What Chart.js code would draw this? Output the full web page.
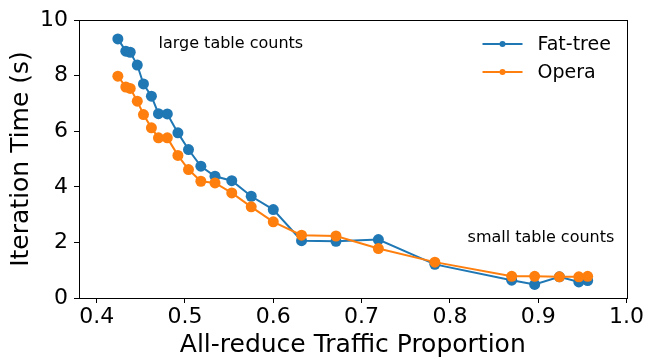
<!DOCTYPE html>
<html>
<head>
<meta charset="utf-8">
<script src="https://cdn.jsdelivr.net/npm/chart.js@4/dist/chart.umd.min.js"></script>
<style>
  html, body { margin: 0; padding: 0; background: #fff; }
  #wrap { width: 645px; height: 360px; }
</style>
</head>
<body>
<div id="wrap"><canvas id="c" width="645" height="360"></canvas></div>
<script>
// ---- data ----
const trafficProportion = [0.424, 0.433, 0.438, 0.446, 0.453, 0.462, 0.470, 0.480, 0.492, 0.504, 0.518, 0.534, 0.553, 0.575, 0.600, 0.632, 0.671, 0.719, 0.783, 0.870, 0.896, 0.924, 0.946, 0.956];
const fatTreeTime = [9.32, 8.88, 8.84, 8.38, 7.70, 7.26, 6.63, 6.62, 5.94, 5.34, 4.74, 4.38, 4.22, 3.66, 3.18, 2.06, 2.04, 2.10, 1.21, 0.64, 0.49, 0.76, 0.58, 0.63];
const operaTime = [7.98, 7.59, 7.54, 7.08, 6.60, 6.12, 5.76, 5.76, 5.13, 4.62, 4.20, 4.14, 3.78, 3.28, 2.74, 2.26, 2.23, 1.78, 1.29, 0.78, 0.78, 0.76, 0.76, 0.78];
const seriesNames = ["Fat-tree", "Opera"];
const xTickValues = [0.4, 0.5, 0.6, 0.7, 0.8, 0.9, 1.0];
const yTickValues = [0, 2, 4, 6, 8, 10];
const noteTexts = ["large table counts", "small table counts"];
const noteAnchorX = [0.47, 0.82];
const noteAnchorY = [9.0, 2.0];

const BLUE = '#1f77b4', ORANGE = '#ff7f0e';
const FONT = "'DejaVu Sans', sans-serif";

const toPts = (xs, ys) => xs.map((x, i) => ({ x: x, y: ys[i] }));

const framePlugin = {
  id: 'frame',
  afterDraw(chart) {
    const { ctx, chartArea: a, scales } = chart;
    ctx.save();
    ctx.strokeStyle = '#000';
    ctx.lineWidth = 1;
    ctx.strokeRect(Math.round(a.left) + 0.5, Math.round(a.top) + 0.5, Math.round(a.right - a.left), Math.round(a.bottom - a.top));
    // annotations
    ctx.fillStyle = '#000';
    ctx.font = '16px ' + FONT;
    ctx.textAlign = 'left';
    ctx.textBaseline = 'alphabetic';
    noteTexts.forEach((t, i) => {
      ctx.fillText(t, scales.x.getPixelForValue(noteAnchorX[i]), scales.y.getPixelForValue(noteAnchorY[i]));
    });
    // legend
    const colors = [BLUE, ORANGE];
    const lx0 = a.right - 144, lx1 = a.right - 104, tx = a.right - 89;
    const rows = [a.top + 24, a.top + 52];
    ctx.font = '19px ' + FONT;
    ctx.textBaseline = 'middle';
    seriesNames.forEach((n, i) => {
      ctx.strokeStyle = colors[i];
      ctx.lineWidth = 2;
      ctx.beginPath();
      ctx.moveTo(lx0, rows[i]);
      ctx.lineTo(lx1, rows[i]);
      ctx.stroke();
      ctx.fillStyle = colors[i];
      ctx.beginPath();
      ctx.arc((lx0 + lx1) / 2, rows[i], 3, 0, Math.PI * 2);
      ctx.fill();
      ctx.fillStyle = '#000';
      ctx.fillText(n, tx, rows[i] + 1);
    });
    ctx.restore();
  }
};

new Chart(document.getElementById('c'), {
  type: 'line',
  data: {
    datasets: [
      { label: seriesNames[0], data: toPts(trafficProportion, fatTreeTime), borderColor: BLUE, backgroundColor: BLUE,
        borderWidth: 2, pointRadius: 5.5, pointBorderWidth: 0, tension: 0, order: 1 },
      { label: seriesNames[1], data: toPts(trafficProportion, operaTime), borderColor: ORANGE, backgroundColor: ORANGE,
        borderWidth: 2, pointRadius: 5.5, pointBorderWidth: 0, tension: 0, order: 0 }
    ]
  },
  options: {
    responsive: false,
    animation: false,
    layout: { padding: { left: 0, right: 18, top: 20, bottom: 0 } },
    plugins: { legend: { display: false }, tooltip: { enabled: false } },
    scales: {
      x: {
        type: 'linear', min: 0.38, max: 1.0,
        afterBuildTicks: s => { s.ticks = xTickValues.map(v => ({ value: v })); },
        afterFit: s => { s.height = 62; },
        grid: { drawOnChartArea: false, drawTicks: true, tickLength: 5, color: '#000' },
        border: { display: true, color: '#000' },
        ticks: { color: '#000', font: { family: FONT, size: 22 }, padding: 1, callback: v => v.toFixed(1), maxRotation: 0 },
        title: { display: true, text: 'All-reduce Traffic Proportion', color: '#000', font: { family: FONT, size: 25 }, padding: { top: 0, bottom: 0 } }
      },
      y: {
        type: 'linear', min: 0, max: 10,
        afterBuildTicks: s => { s.ticks = yTickValues.map(v => ({ value: v })); },
        afterFit: s => { s.width = 79; },
        grid: { drawOnChartArea: false, drawTicks: true, tickLength: 5, color: '#000' },
        border: { display: true, color: '#000' },
        ticks: { color: '#000', font: { family: FONT, size: 22 }, padding: 6 },
        title: { display: true, text: 'Iteration Time (s)', color: '#000', font: { family: FONT, size: 25 }, padding: { top: 6, bottom: 0 } }
      }
    }
  },
  plugins: [framePlugin]
});
</script>
</body>
</html>
